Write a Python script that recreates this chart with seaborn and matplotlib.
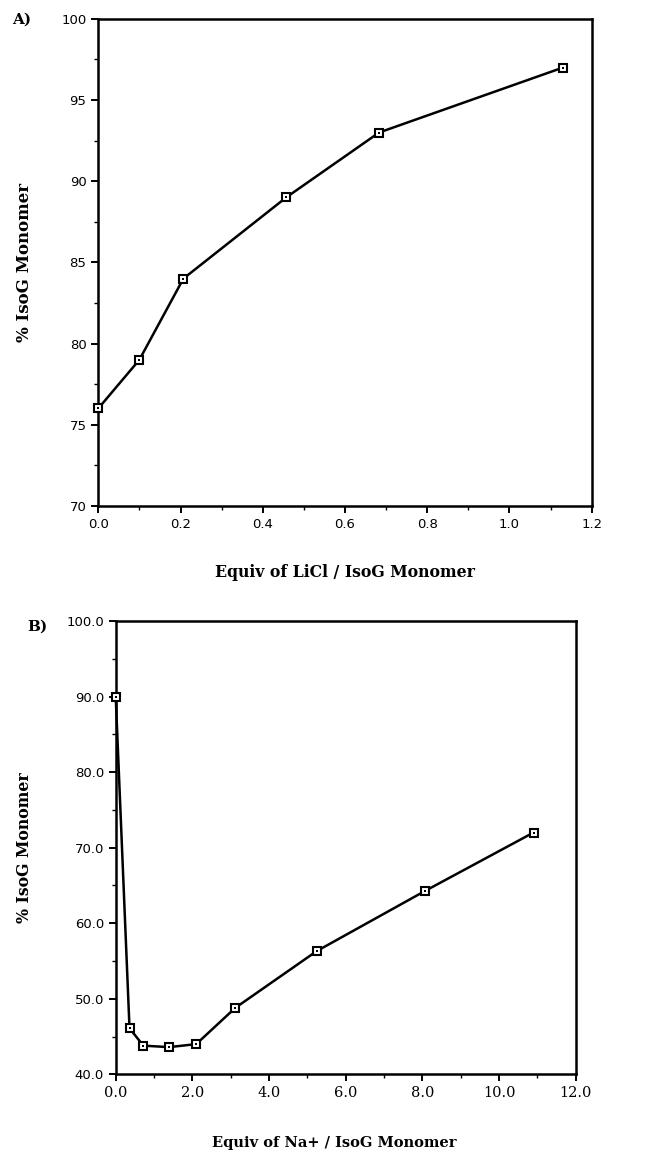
import numpy as np
import pandas as pd
import matplotlib
matplotlib.use("Agg")
import matplotlib.pyplot as plt
from matplotlib.ticker import MultipleLocator, FormatStrFormatter
import seaborn as sns

# --- datos ---
licl_equiv = [0.0, 0.10, 0.207, 0.457, 0.683, 1.13]
licl_monomer = [76.0, 79.0, 84.0, 89.0, 93.0, 97.0]

na_equiv = [0.0, 0.36, 0.72, 1.39, 2.1, 3.12, 5.24, 8.08, 10.9]
na_monomer = [90.0, 46.1, 43.8, 43.6, 44.0, 48.8, 56.3, 64.3, 72.0]

sns.set_style("ticks")
plt.rcParams["font.family"] = ["DejaVu Sans"]
plt.rcParams["text.color"] = "black"
plt.rcParams["axes.labelcolor"] = "black"

fig = plt.figure(figsize=(6.53, 11.51), dpi=100)
ax_a = fig.add_axes([0.1505, 0.5605, 0.7556, 0.4231])
ax_b = fig.add_axes([0.1772, 0.0666, 0.7044, 0.3939])

serif = dict(family="DejaVu Serif", fontweight="bold", color="black")
line_kw = dict(color="black", linewidth=1.8, marker="s", markersize=5.5,
               markerfacecolor="white", markeredgecolor="black",
               markeredgewidth=1.5, clip_on=False, zorder=5)


def draw_panel(ax, df):
    sns.lineplot(data=df, x="equiv", y="pct", ax=ax, **line_kw)
    # punto central dentro de cada cuadrado
    sns.scatterplot(data=df, x="equiv", y="pct", ax=ax, marker="s", s=3,
                    color="black", linewidth=0, clip_on=False, zorder=6)


# --- Panel A: LiCl ---
df_a = pd.DataFrame({"equiv": licl_equiv, "pct": licl_monomer})
draw_panel(ax_a, df_a)
ax_a.set_xlim(0, 1.2)
ax_a.set_ylim(70, 100)
ax_a.xaxis.set_major_locator(MultipleLocator(0.2))
ax_a.xaxis.set_minor_locator(MultipleLocator(0.1))
ax_a.yaxis.set_major_locator(MultipleLocator(5))
ax_a.yaxis.set_minor_locator(MultipleLocator(2.5))
ax_a.xaxis.set_major_formatter(FormatStrFormatter("%.1f"))
ax_a.set_xlabel("Equiv of LiCl / IsoG Monomer", labelpad=24, fontsize=11.3, **serif)
ax_a.set_ylabel("% IsoG Monomer", fontsize=12, **serif)
ax_a.yaxis.set_label_coords(-0.132, 0.5)
ax_a.text(-0.175, 0.998, "A)", transform=ax_a.transAxes, ha="left", va="center",
          fontsize=11, **serif)

# --- Panel B: Na+ ---
df_b = pd.DataFrame({"equiv": na_equiv, "pct": na_monomer})
draw_panel(ax_b, df_b)
ax_b.set_xlim(0, 12)
ax_b.set_ylim(40, 100)
ax_b.xaxis.set_major_locator(MultipleLocator(2))
ax_b.xaxis.set_minor_locator(MultipleLocator(1))
ax_b.yaxis.set_major_locator(MultipleLocator(10))
ax_b.yaxis.set_minor_locator(MultipleLocator(5))
ax_b.xaxis.set_major_formatter(FormatStrFormatter("%.1f"))
ax_b.yaxis.set_major_formatter(FormatStrFormatter("%.1f"))
ax_b.set_xlabel("Equiv of Na+ / IsoG Monomer", fontsize=10.5, **serif)
ax_b.xaxis.set_label_coords(0.475, -0.135)
ax_b.set_ylabel("% IsoG Monomer", fontsize=11.3, **serif)
ax_b.yaxis.set_label_coords(-0.18, 0.5)
ax_b.text(-0.193, 0.987, "B)", transform=ax_b.transAxes, ha="left", va="center",
          fontsize=11, **serif)

for ax in (ax_a, ax_b):
    for sp in ax.spines.values():
        sp.set_visible(True)
        sp.set_linewidth(1.8)
        sp.set_color("black")
    ax.tick_params(which="major", direction="out", length=5, width=1.4,
                   labelsize=9.5, colors="black")
    ax.tick_params(which="minor", direction="out", length=3, width=1.0,
                   colors="black")
    ax.grid(False)

for lab in ax_b.get_xticklabels():
    lab.set_family("DejaVu Serif")
    lab.set_fontsize(10.5)

fig.savefig("out.png", dpi=100, facecolor="white")
